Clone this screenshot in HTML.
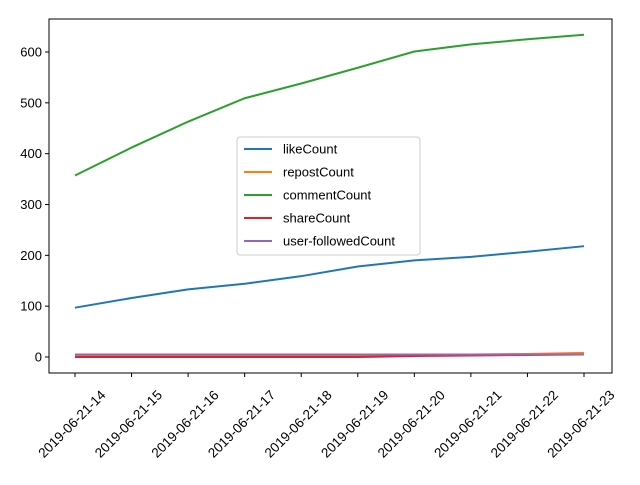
<!DOCTYPE html>
<html><head><meta charset="utf-8"><style>
body{margin:0;background:#fff;}
svg text{font-family:"Liberation Sans","DejaVu Sans",sans-serif;font-size:13px;fill:#000;}
</style></head><body>
<svg id="chart" width="640" height="480"></svg>
<script>
const categories=["2019-06-21-14","2019-06-21-15","2019-06-21-16","2019-06-21-17","2019-06-21-18","2019-06-21-19","2019-06-21-20","2019-06-21-21","2019-06-21-22","2019-06-21-23"];
const likeCount=[97,116,133,144,159,178,190,197,207,218];
const repostCount=[2,2,2,2,2,3,4,5,6,8];
const commentCount=[357,412,463,509,538,569,601,615,625,634];
const shareCount=[0,0,0,0,0,0,2,3,4,5];
const followedCount=[5,5,5,5,5,5,5,5,5,5];
const yTicks=[0,100,200,300,400,500,600];
const seriesNames=["likeCount","repostCount","commentCount","shareCount","user-followedCount"];
const seriesColors=["#1f77b4","#ff7f0e","#2ca02c","#d62728","#9467bd"];
const seriesData=[likeCount,repostCount,commentCount,shareCount,followedCount];
const NS="http://www.w3.org/2000/svg";
const svg=document.getElementById('chart');
const L=49,R=612,T=19,B=373;
const x=i=>75+i*(584-75)/(categories.length-1);
const y=v=>357-v*(357-52)/600;
function mk(t,a,p){const e=document.createElementNS(NS,t);for(const k in a)e.setAttribute(k,a[k]);(p||svg).appendChild(e);return e;}
seriesData.forEach((d,s)=>{
  const p=mk('polyline',{points:d.map((v,i)=>x(i)+','+y(v)).join(' '),fill:'none',stroke:seriesColors[s],'stroke-width':2});
  
  
});
const ax=mk('rect',{x:L,y:T,width:R-L,height:B-T,fill:'none',stroke:'#000','stroke-width':1});


yTicks.forEach(v=>{
  mk('line',{x1:L-4,x2:L,y1:y(v),y2:y(v),stroke:'#000'});
  const t=mk('text',{x:L-7,y:y(v)+4.5,'text-anchor':'end'});t.textContent=v;
  
  
});
categories.forEach((c,i)=>{
  mk('line',{x1:x(i),x2:x(i),y1:B,y2:B+4,stroke:'#000'});
  const cx=x(i)-3, cy=424;
  const t=mk('text',{x:cx,y:cy+4.5,'text-anchor':'middle',transform:`rotate(-45 ${cx} ${cy})`,style:'font-size:13.5px'});t.textContent=c;
  
  
});
const g=mk('g',{});


mk('rect',{x:237,y:137,width:183,height:118,rx:3,fill:'#fff',stroke:'#ccc','fill-opacity':0.8},g);
seriesNames.forEach((n,s)=>{
  const yy=149+s*23;
  mk('line',{x1:244,x2:272,y1:yy,y2:yy,stroke:seriesColors[s],'stroke-width':2},g);
  const t=mk('text',{x:283,y:yy+4.5},g);t.textContent=n;
  
  
});
</script>
</body></html>
